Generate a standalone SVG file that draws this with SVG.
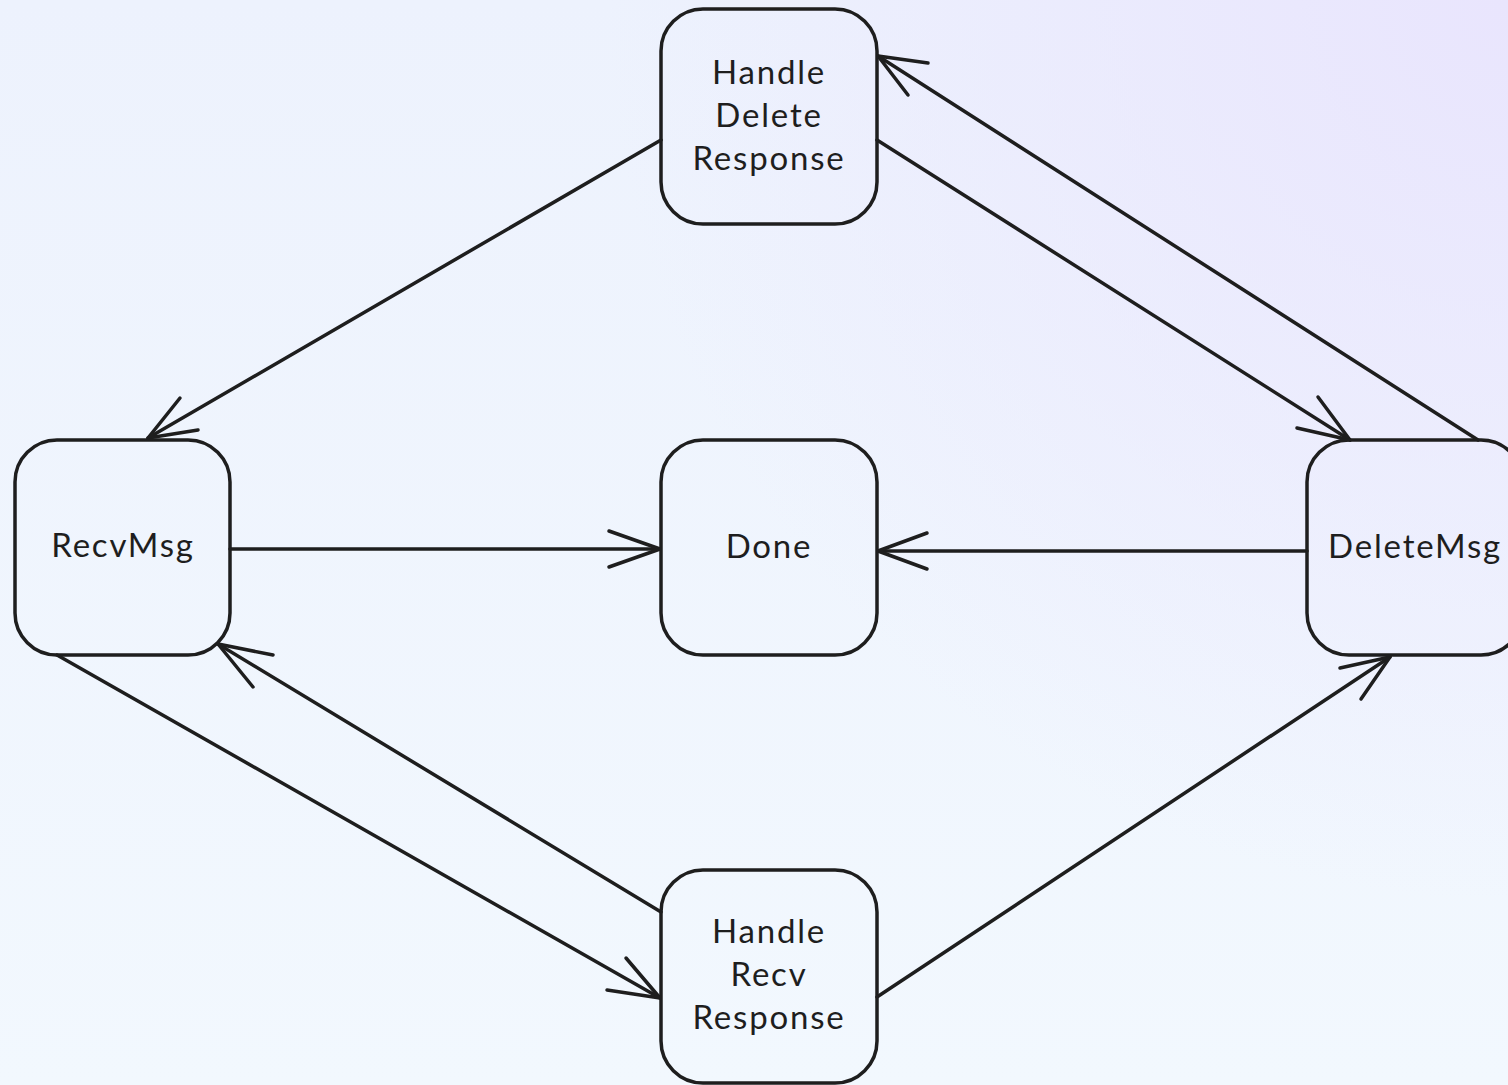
<svg xmlns="http://www.w3.org/2000/svg" width="1508" height="1085" viewBox="0 0 1508 1085">
  <defs>
    <linearGradient id="bg" x1="0" y1="0" x2="0" y2="1">
      <stop offset="0" stop-color="#edf2fd"/>
      <stop offset="1" stop-color="#f2f8fe"/>
    </linearGradient>
    <radialGradient id="tint" cx="1508" cy="0" r="900" gradientUnits="userSpaceOnUse">
      <stop offset="0" stop-color="#e9e5fd" stop-opacity="1"/>
      <stop offset="1" stop-color="#e9e5fd" stop-opacity="0"/>
    </radialGradient>
    <style>
      .box { fill: none; stroke: #1e1e1e; stroke-width: 3.5; }
      .edge { fill: none; stroke: #1e1e1e; stroke-width: 3.5; stroke-linecap: round; stroke-linejoin: round; }
      .lbl { font-family: "Lato", "Noto Sans", "Liberation Sans", sans-serif; font-size: 33px; fill: #1e1e1e; text-anchor: middle; letter-spacing: 1.8px; }
    </style>
  </defs>

  <rect width="1508" height="1085" fill="url(#bg)"/>
  <rect width="1508" height="1085" fill="url(#tint)"/>

  <!-- connectors: line + open arrowhead -->
  <g id="connectors">
    <!-- HandleDeleteResponse -> RecvMsg -->
    <path class="edge" d="M661 140 L148 438"/>
    <path class="edge" d="M180 398 L148 438 L198 430"/>
    <!-- RecvMsg -> Done -->
    <path class="edge" d="M230 549 L660 549"/>
    <path class="edge" d="M609 531 L660 549 L609 567"/>
    <!-- DeleteMsg -> Done -->
    <path class="edge" d="M1307 551 L878 551"/>
    <path class="edge" d="M927 533 L878 551 L927 569"/>
    <!-- HandleDeleteResponse -> DeleteMsg -->
    <path class="edge" d="M877 140 L1350 440"/>
    <path class="edge" d="M1297 428 L1350 440 L1318 397"/>
    <!-- DeleteMsg -> HandleDeleteResponse -->
    <path class="edge" d="M1478 440 L878 56"/>
    <path class="edge" d="M928 63 L878 56 L908 95"/>
    <!-- RecvMsg -> HandleRecvResponse -->
    <path class="edge" d="M57 655 L660 998"/>
    <path class="edge" d="M607 990 L660 998 L626 958"/>
    <!-- HandleRecvResponse -> RecvMsg -->
    <path class="edge" d="M661 912 L218 644"/>
    <path class="edge" d="M273 655 L218 644 L253 687"/>
    <!-- HandleRecvResponse -> DeleteMsg -->
    <path class="edge" d="M877 997 L1390 657"/>
    <path class="edge" d="M1340 668 L1390 657 L1361 699"/>
  </g>

  <g id="handle-delete-response">
    <rect class="box" x="661" y="9" width="216" height="215" rx="42"/>
    <text class="lbl" x="769" y="84">Handle</text>
    <text class="lbl" x="769" y="127">Delete</text>
    <text class="lbl" x="769" y="170">Response</text>
  </g>

  <g id="recv-msg">
    <rect class="box" x="15" y="440" width="215" height="215" rx="42"/>
    <text class="lbl" x="123" y="557">RecvMsg</text>
  </g>

  <g id="done">
    <rect class="box" x="661" y="440" width="216" height="215" rx="42"/>
    <text class="lbl" x="769" y="558">Done</text>
  </g>

  <g id="delete-msg">
    <rect class="box" x="1307" y="440" width="216" height="215" rx="42"/>
    <text class="lbl" x="1415" y="558">DeleteMsg</text>
  </g>

  <g id="handle-recv-response">
    <rect class="box" x="661" y="870" width="216" height="213" rx="42"/>
    <text class="lbl" x="769" y="943">Handle</text>
    <text class="lbl" x="769" y="986">Recv</text>
    <text class="lbl" x="769" y="1029">Response</text>
  </g>
</svg>
